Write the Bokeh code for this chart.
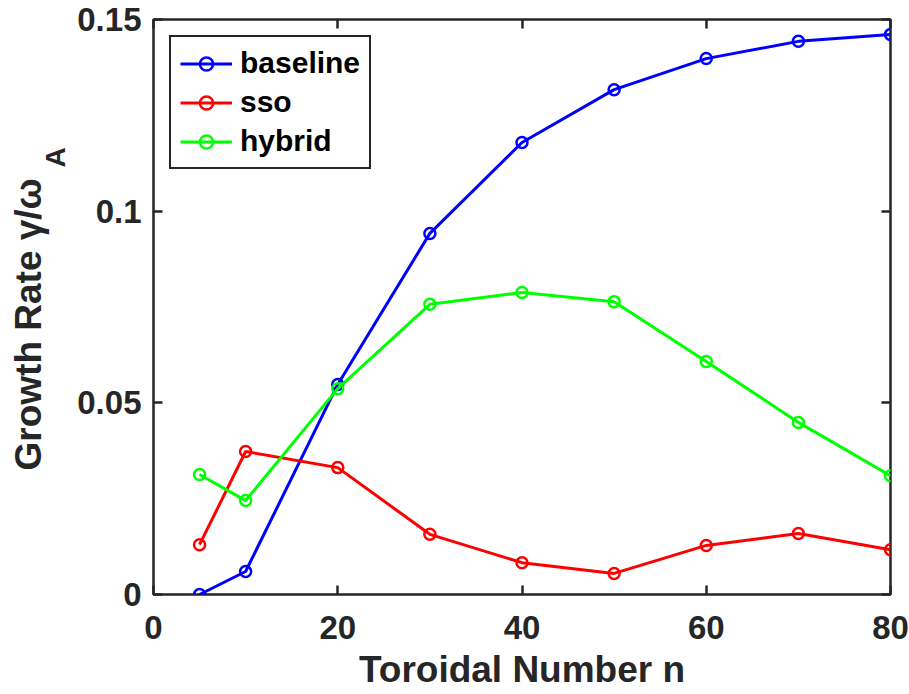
from bokeh.plotting import figure
from bokeh.models import (Range1d, LinearAxis, FixedTicker, Title,
                          CustomJSTickFormatter)
from bokeh.embed import file_html
from bokeh.resources import INLINE

# ---- data ----
n = [5, 10, 20, 30, 40, 50, 60, 70, 80]
baseline = [0.0, 0.0060, 0.0548, 0.0942, 0.1179, 0.1317, 0.1398, 0.1443, 0.1461]
sso = [0.0130, 0.0373, 0.0331, 0.0157, 0.0083, 0.0055, 0.0128, 0.0159, 0.0117]
hybrid = [0.0313, 0.0245, 0.0537, 0.0757, 0.0788, 0.0764, 0.0608, 0.0449, 0.0310]

series_names = ["baseline", "sso", "hybrid"]
series_colors = ["#0000ff", "#ff0000", "#00ff00"]
x_ticks = [0, 20, 40, 60, 80]
y_ticks = [0, 0.05, 0.1, 0.15]

AX = "#262626"
FONT = "Liberation Sans"

p = figure(width=909, height=694, output_backend="svg", toolbar_location=None,
           x_range=Range1d(0, 80), y_range=Range1d(0, 0.15),
           min_border_left=153, min_border_right=19, min_border_top=19,
           min_border_bottom=100)
p.background_fill_color = "white"
p.border_fill_color = "white"
p.outline_line_color = AX
p.outline_line_width = 2.5
p.outline_line_alpha = 1.0
p.xgrid.visible = False
p.ygrid.visible = False

fmt = CustomJSTickFormatter(code="""
var s = tick.toFixed(2);
if (s.indexOf('.') >= 0) { s = s.replace(/0+$/, '').replace(/\\.$/, ''); }
return s;
""")

def style_axis(ax, ticks, show_labels, standoff):
    ax.ticker = FixedTicker(ticks=ticks)
    ax.axis_line_color = None
    ax.major_tick_in = 9
    ax.major_tick_out = 0
    ax.major_tick_line_color = AX
    ax.major_tick_line_width = 2.5
    ax.minor_tick_line_color = None
    if show_labels:
        ax.major_label_text_font = FONT
        ax.major_label_text_font_style = "bold"
        ax.major_label_text_font_size = "33px"
        ax.major_label_text_color = AX
        ax.major_label_standoff = standoff
    else:
        ax.major_label_text_font_size = "0px"
        ax.major_label_standoff = 0

style_axis(p.xaxis[0], x_ticks, True, 21)
style_axis(p.yaxis[0], y_ticks, True, 12)
p.yaxis[0].formatter = fmt

xa = p.xaxis[0]
xa.axis_label = "Toroidal Number n"
xa.axis_label_text_font = FONT
xa.axis_label_text_font_style = "bold"
xa.axis_label_text_font_size = "37px"
xa.axis_label_text_color = AX
xa.axis_label_standoff = 7

top_ax = LinearAxis()
style_axis(top_ax, x_ticks, False, 0)
p.add_layout(top_ax, "above")
right_ax = LinearAxis()
style_axis(right_ax, y_ticks, False, 0)
p.add_layout(right_ax, "right")

for name, ys, col in zip(series_names, [baseline, sso, hybrid], series_colors):
    p.line(n, ys, line_color=col, line_width=3, legend_label=name)
    p.scatter(n, ys, marker="circle", size=11, line_color=col, line_width=2.5,
              fill_color=None, legend_label=name)

lg = p.legend[0]
lg.location = "top_left"
lg.margin = 16
lg.padding = 9
lg.spacing = 5
lg.glyph_width = 52
lg.glyph_height = 33
lg.label_height = 33
lg.label_standoff = 8
lg.label_text_font = FONT
lg.label_text_font_style = "bold"
lg.label_text_font_size = "30px"
lg.label_text_color = "#000000"
lg.label_text_baseline = "middle"
lg.border_line_color = AX
lg.border_line_width = 2.5
lg.border_line_alpha = 1.0
lg.background_fill_color = "white"
lg.background_fill_alpha = 1.0

# y-axis title: subscript "A" column next to the ticks, then the main text
sub_title = Title(text="A", text_font=FONT, text_font_style="bold",
                  text_font_size="28px", text_color=AX, align="left",
                  offset=427, standoff=8, vertical_align="bottom")
p.add_layout(sub_title, "left")
main_title = Title(text="Growth Rate γ/ω", text_font=FONT,
                   text_font_style="bold", text_font_size="37px",
                   text_color=AX, align="left", offset=124, standoff=-30,
                   vertical_align="bottom")
p.add_layout(main_title, "left")

open("out.html", "w").write(file_html(p, INLINE))
